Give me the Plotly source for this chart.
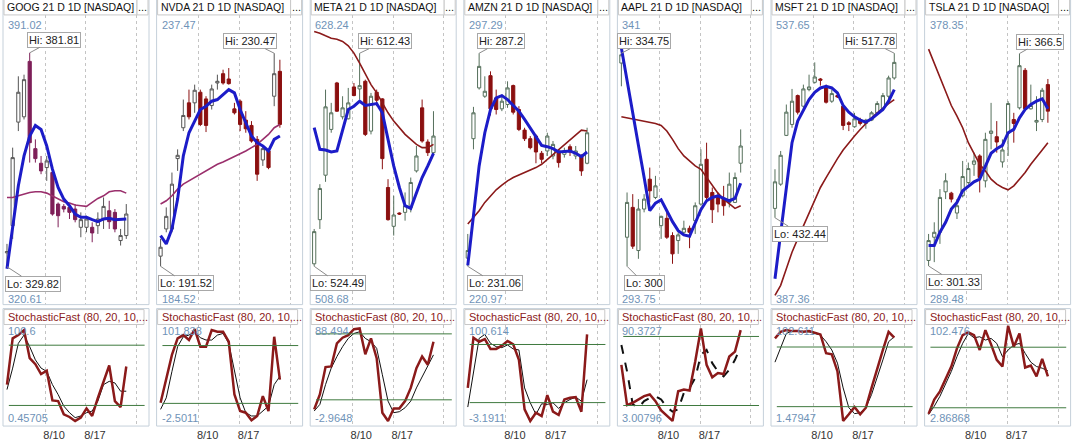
import plotly.graph_objects as go

# ---------------- data ----------------
tickers = ["GOOG", "NVDA", "META", "AMZN", "AAPL", "MSFT", "TSLA"]
price_top = [391.02, 237.47, 628.24, 297.29, 341, 537.65, 378.35]
price_bottom = [320.61, 184.52, 508.68, 220.97, 293.75, 387.36, 289.48]
stoch_top = [100.6, 101.838, 88.494, 100.614, 90.3727, 102.611, 102.476]
stoch_bottom = [0.45705, -2.5011, -2.9648, -3.1911, 3.00796, 1.47947, 2.86868]
stoch_levels = [80, 20]

date_ticks = [6.7, 13.9, 22.8]
date_labels = ["8/10", "8/17", ""]

goog_open = [333.19, 339.80, 364.97, 366.26, 379.73, 358.52, 354.97, 353.92, 352.71, 345.05, 344.48,
             344.24, 343.84, 339.40, 339.40, 339.40, 339.80, 341.42, 343.43, 343.03, 336.18, 337.39]
goog_high = [335.37, 358.76, 376.10, 376.50, 381.81, 360.77, 356.74, 356.74, 353.52, 345.45, 345.05,
             345.05, 345.05, 343.03, 342.22, 340.61, 343.03, 346.66, 345.85, 343.84, 339.00, 345.05]
goog_low = [329.82, 336.58, 362.79, 365.61, 355.13, 355.13, 352.31, 350.69, 342.22, 339.40, 343.03,
            341.42, 340.61, 336.98, 338.19, 335.77, 337.79, 339.00, 339.00, 338.19, 334.97, 336.58]
goog_close = [333.51, 356.34, 372.23, 375.29, 359.97, 356.10, 353.11, 355.53, 342.63, 342.22, 343.84,
              343.03, 341.26, 341.26, 341.42, 338.03, 341.42, 344.48, 340.77, 339.00, 337.39, 342.63]
goog_fast = [329.32, 339.80, 349.48, 356.74, 361.58, 364.16, 363.19, 359.16, 353.52, 349.08, 346.26,
             344.64, 342.63, 341.82, 341.82, 341.26, 340.77, 341.42, 341.58, 341.26, 341.26, 341.42]
goog_slow = [346.66, 346.66, 347.06, 347.47, 347.87, 348.03, 348.03, 347.71, 347.06, 346.26, 345.61,
             345.29, 344.81, 344.64, 344.48, 345.45, 346.42, 347.06, 348.03, 348.27, 348.27, 347.71]
goog_k = [40.74, 86.79, 90.08, 95.01, 67.05, 61.14, 51.27, 54.56, 24.96, 24.30, 11.15,
          8.52, 4.57, 7.86, 17.07, 9.50, 27.59, 44.03, 59.82, 24.30, 18.38, 58.83]
goog_d = [35.81, 57.19, 81.85, 90.08, 78.57, 65.41, 57.19, 53.90, 40.74, 30.88, 19.37,
          12.79, 7.86, 9.50, 12.79, 14.43, 24.30, 40.74, 44.03, 42.39, 34.17, 34.17]

nvda_open = [193.38, 198.35, 198.35, 211.21, 216.85, 221.40, 221.40, 223.34, 222.12, 220.91, 225.03,
             226.73, 225.76, 220.30, 221.70, 218.24, 217.27, 214.72, 210.96, 212.60, 222.61, 227.16]
nvda_high = [196.53, 202.29, 208.66, 212.90, 222.00, 223.82, 224.73, 223.82, 222.61, 224.73, 226.55,
             227.46, 227.76, 221.40, 222.00, 219.88, 218.06, 215.33, 213.51, 213.03, 230.47, 229.28]
nvda_low = [191.52, 197.74, 197.74, 208.96, 216.24, 218.36, 219.58, 217.15, 216.06, 220.18, 223.82,
            224.73, 224.73, 219.27, 216.24, 215.94, 214.12, 207.14, 209.87, 209.27, 220.79, 216.85]
nvda_close = [195.01, 200.65, 206.54, 211.81, 219.09, 218.85, 223.70, 217.45, 217.27, 223.94, 225.34,
              225.03, 224.91, 219.58, 217.45, 216.66, 214.42, 208.36, 213.03, 209.57, 226.73, 217.45]
nvda_fast = [197.14, 195.62, 198.35, 203.81, 211.69, 215.94, 218.06, 220.18, 220.79, 221.70, 222.00,
             222.91, 223.82, 223.22, 220.18, 217.76, 215.33, 214.12, 213.51, 212.60, 214.72, 215.33]
nvda_slow = [202.90, 203.50, 204.41, 205.63, 206.54, 207.14, 207.75, 208.36, 208.96, 209.57, 210.18,
             210.60, 211.08, 211.69, 212.18, 212.60, 213.21, 213.81, 214.72, 215.63, 216.85, 217.45]
nvda_k = [20.63, 46.33, 70.31, 87.45, 90.87, 85.73, 97.04, 78.88, 78.88, 96.01, 94.30,
          94.30, 84.02, 29.20, 12.06, 10.35, 2.47, 6.92, 27.48, 12.06, 89.16, 44.62]
nvda_d = [13.78, 25.77, 53.18, 78.88, 89.16, 90.87, 94.30, 88.13, 85.73, 85.73, 90.87,
          92.59, 82.31, 53.18, 25.77, 10.35, 6.92, 6.92, 12.06, 17.20, 39.48, 48.04]

meta_open = [525.52, 543.74, 562.09, 580.99, 600.16, 586.19, 585.37, 598.52, 597.70, 600.85, 580.30,
             596.33, 593.59, 557.02, 541.00, 546.48, 546.75, 548.81, 563.87, 589.89, 575.79, 571.40]
meta_high = [539.90, 558.39, 597.42, 591.95, 600.60, 594.68, 598.11, 600.16, 612.43, 601.53, 596.05,
             597.42, 593.90, 560.45, 553.60, 546.75, 554.97, 561.13, 574.14, 593.32, 576.88, 588.52]
meta_low = [524.49, 539.90, 559.35, 579.62, 588.20, 585.10, 585.10, 594.68, 593.32, 578.25, 578.94,
            590.58, 564.56, 543.33, 537.17, 545.66, 543.33, 546.75, 563.19, 575.51, 570.03, 570.72]
meta_close = [538.81, 556.61, 590.30, 587.84, 588.52, 589.89, 591.95, 594.96, 599.07, 578.94, 594.68,
              593.04, 568.94, 543.74, 545.66, 546.07, 549.49, 559.08, 570.03, 576.20, 571.40, 578.25]
meta_fast = [581.68, 572.77, 572.50, 571.68, 572.09, 580.99, 589.21, 590.58, 592.63, 590.85, 591.26,
             591.67, 587.84, 576.88, 565.93, 557.02, 549.49, 548.40, 554.97, 561.13, 565.93, 571.13]
meta_slow = [621.39, 620.70, 619.61, 618.65, 618.24, 617.28, 615.50, 612.49, 608.38, 603.59, 599.48,
             596.05, 591.95, 587.84, 584.41, 581.68, 578.94, 576.88, 574.83, 573.46, 573.46, 574.83]
meta_k = [11.30, 24.82, 49.75, 50.35, 71.37, 76.48, 78.88, 84.29, 84.89, 61.46, 75.88,
          57.86, 8.30, 0.78, 12.20, 12.20, 18.81, 30.82, 48.85, 59.36, 51.85, 72.87]
meta_d = [9.80, 15.81, 33.83, 48.85, 59.36, 68.37, 75.88, 80.38, 81.89, 75.88, 72.87,
          66.87, 42.84, 18.81, 8.30, 9.20, 12.80, 18.81, 30.82, 41.34, 50.35, 60.86]

amzn_open = [233.21, 264.68, 278.06, 275.87, 281.29, 275.43, 272.55, 273.68, 278.67, 272.37, 266.95,
             264.68, 265.38, 260.83, 261.45, 260.13, 261.45, 260.57, 262.58, 260.13, 259.96, 258.21]
amzn_high = [239.59, 273.07, 287.20, 281.12, 282.43, 277.62, 276.31, 279.80, 278.93, 273.25, 267.57,
             265.38, 265.82, 261.45, 266.25, 264.07, 261.88, 262.32, 263.19, 262.76, 260.57, 267.57]
amzn_low = [231.06, 261.88, 277.62, 275.43, 270.80, 271.06, 271.94, 272.81, 271.06, 266.69, 264.07,
            261.88, 258.21, 258.21, 260.13, 259.26, 257.07, 259.70, 260.13, 259.26, 254.89, 257.95]
amzn_close = [235.22, 271.50, 283.74, 277.18, 272.55, 272.37, 274.56, 278.06, 271.67, 267.13, 264.68,
              262.32, 261.18, 259.26, 265.38, 263.19, 258.39, 261.45, 261.18, 261.45, 256.20, 266.25]
amzn_fast = [231.29, 244.40, 257.51, 266.25, 272.37, 275.43, 276.04, 275.00, 273.42, 271.94, 269.75,
             267.57, 265.21, 262.93, 262.58, 262.06, 261.18, 261.36, 261.45, 260.83, 259.96, 261.18]
amzn_slow = [242.21, 243.96, 245.71, 247.90, 249.64, 251.22, 252.44, 253.58, 254.45, 255.06, 255.76,
             256.46, 257.07, 257.95, 259.26, 260.57, 261.88, 263.19, 264.51, 265.82, 266.95, 266.69]
amzn_k = [35.16, 86.98, 82.89, 85.61, 75.39, 75.39, 78.80, 83.57, 80.16, 64.14, 13.00,
          1.07, 9.59, 6.18, 27.66, 10.62, 7.21, 23.23, 24.93, 25.61, 10.62, 90.39]
amzn_d = [15.39, 52.21, 86.30, 90.39, 81.18, 77.77, 76.75, 79.48, 75.39, 74.36, 35.16,
          19.82, 7.89, 18.80, 18.12, 19.82, 14.02, 19.82, 23.23, 25.61, 21.53, 43.68]

aapl_open = [333.15, 304.74, 309.61, 302.57, 309.34, 314.21, 311.23, 306.63, 307.82, 305.01, 304.20,
             305.55, 306.20, 307.44, 310.15, 317.45, 312.04, 311.39, 310.96, 310.42, 310.42, 316.81]
aapl_high = [334.75, 312.04, 311.77, 310.96, 311.77, 316.10, 314.75, 308.25, 308.80, 305.55, 305.55,
             307.44, 306.63, 310.42, 319.08, 320.16, 312.85, 312.04, 313.12, 315.29, 315.29, 322.33]
aapl_low = [329.36, 300.00, 302.84, 301.22, 308.80, 310.42, 310.96, 304.47, 304.47, 300.41, 302.03,
            305.01, 302.95, 305.28, 309.88, 310.69, 307.06, 308.80, 308.25, 309.61, 310.31, 315.29]
aapl_close = [334.50, 310.42, 303.28, 309.34, 310.96, 312.31, 313.12, 308.15, 304.74, 302.03, 305.12,
              306.20, 305.55, 309.88, 316.64, 311.23, 309.23, 310.15, 309.88, 313.40, 314.48, 319.62]
aapl_fast = [335.59, 330.07, 325.25, 319.73, 314.53, 309.07, 310.31, 310.85, 309.07, 307.28, 305.82,
             305.12, 304.90, 307.17, 309.23, 310.69, 311.23, 311.50, 311.07, 310.69, 311.07, 313.56]
aapl_slow = [324.38, 324.22, 323.95, 323.84, 323.68, 323.52, 323.30, 322.97, 322.06, 320.70, 319.19,
             318.00, 317.18, 316.37, 315.83, 314.48, 313.13, 311.93, 310.96, 310.15, 309.44, 309.88]
aapl_k = [55.37, 20.36, 22.37, 25.24, 28.11, 29.55, 23.81, 15.77, 10.90, 6.59, 32.41,
          33.85, 32.99, 58.24, 86.93, 55.37, 44.46, 48.19, 47.34, 62.54, 66.84, 85.50]
aapl_d = [72.58, 49.63, 20.94, 18.07, 23.81, 26.68, 28.11, 25.24, 18.64, 14.63, 16.63,
          30.98, 35.28, 43.89, 63.97, 68.28, 56.80, 49.63, 45.33, 51.06, 59.67, 71.15]

msft_open = [437.28, 449.85, 475.16, 480.84, 495.81, 490.31, 498.91, 502.70, 504.42, 500.29, 492.89,
             495.81, 490.31, 481.70, 479.63, 483.42, 481.35, 483.08, 486.86, 488.93, 495.47, 504.94]
msft_high = [457.60, 467.07, 491.17, 499.26, 496.33, 501.50, 506.66, 513.03, 504.94, 501.50, 498.91,
             496.33, 490.65, 482.56, 486.86, 484.28, 483.76, 487.72, 492.89, 497.19, 506.14, 517.78]
msft_low = [432.44, 448.99, 474.81, 479.12, 486.00, 487.72, 498.05, 502.01, 500.98, 491.68, 492.03,
            494.61, 477.91, 477.39, 479.12, 480.32, 478.60, 482.56, 486.00, 487.72, 493.75, 504.08]
msft_close = [451.06, 464.83, 487.21, 492.89, 487.21, 499.26, 500.29, 505.45, 503.73, 492.37, 496.85,
              495.13, 480.32, 480.84, 483.76, 481.35, 483.08, 486.86, 491.68, 495.81, 504.94, 513.03]
msft_fast = [400.79, 424.89, 448.99, 471.37, 482.56, 488.58, 493.75, 497.54, 499.77, 500.63, 499.77,
             497.19, 490.65, 487.21, 484.80, 483.08, 482.04, 483.76, 486.00, 488.58, 492.89, 498.91]
msft_slow = [392.18, 397.34, 405.95, 414.56, 421.45, 428.33, 435.22, 442.10, 448.13, 453.29, 458.46,
             463.11, 467.58, 471.37, 474.81, 478.25, 481.35, 484.28, 486.86, 489.44, 491.68, 493.75]
msft_k = [88.66, 95.30, 96.96, 95.97, 95.97, 95.30, 95.97, 94.64, 92.65, 73.72, 72.72,
          55.45, 5.63, 12.27, 19.58, 12.27, 18.92, 38.84, 58.77, 77.04, 95.30, 89.33]
msft_d = [64.75, 78.70, 93.64, 95.97, 95.97, 95.97, 95.30, 93.64, 91.98, 85.34, 77.04,
          63.75, 38.84, 18.92, 12.94, 13.93, 18.92, 32.20, 48.81, 67.07, 85.34, 90.32]

tsla_open = [303.02, 310.15, 311.67, 324.09, 323.68, 317.58, 322.87, 326.94, 332.54, 335.09, 327.45,
             342.01, 340.99, 333.25, 342.01, 346.28, 349.85, 361.35, 349.54, 345.47, 346.28, 356.97]
tsla_high = [311.16, 314.73, 324.91, 329.79, 324.09, 321.85, 333.56, 333.05, 336.10, 335.60, 342.21,
             351.37, 345.78, 340.18, 351.88, 348.32, 366.50, 362.06, 356.97, 353.41, 355.96, 358.70]
tsla_low = [301.33, 302.51, 308.11, 321.85, 320.83, 315.74, 322.36, 326.43, 328.98, 323.89, 325.42,
            337.12, 336.10, 331.52, 335.09, 339.16, 349.34, 349.14, 349.34, 342.72, 345.47, 345.27]
tsla_close = [309.13, 311.67, 322.36, 327.45, 321.85, 319.82, 328.77, 331.22, 333.56, 328.47, 340.18,
              342.72, 339.36, 336.92, 351.17, 345.06, 362.78, 349.54, 350.56, 345.98, 355.24, 348.83]
tsla_fast = [307.60, 307.60, 311.67, 314.73, 318.80, 320.83, 324.40, 325.92, 327.15, 327.96, 332.03,
             335.90, 337.33, 338.34, 342.21, 343.23, 346.79, 349.34, 350.87, 351.88, 352.60, 349.54]
tsla_slow = [367.87, 363.59, 359.01, 354.94, 350.56, 347.30, 343.74, 339.16, 335.60, 332.54, 330.51,
             327.96, 326.43, 325.42, 324.70, 325.92, 327.96, 330.00, 332.54, 334.58, 336.92, 339.16]
tsla_k = [13.98, 28.07, 36.27, 49.38, 60.85, 78.88, 91.99, 94.61, 91.99, 77.24, 96.90,
          82.81, 67.41, 60.85, 101.17, 80.52, 93.63, 59.87, 61.84, 51.02, 68.39, 51.02]
tsla_d = [13.32, 21.52, 31.35, 42.82, 55.94, 70.68, 83.79, 93.63, 89.37, 90.35, 87.07,
          88.71, 83.79, 70.68, 77.24, 82.16, 83.79, 73.96, 65.11, 60.85, 59.21, 56.59]

ohlc = [
    (goog_open, goog_high, goog_low, goog_close),
    (nvda_open, nvda_high, nvda_low, nvda_close),
    (meta_open, meta_high, meta_low, meta_close),
    (amzn_open, amzn_high, amzn_low, amzn_close),
    (aapl_open, aapl_high, aapl_low, aapl_close),
    (msft_open, msft_high, msft_low, msft_close),
    (tsla_open, tsla_high, tsla_low, tsla_close),
]
fast_ma = [goog_fast, nvda_fast, meta_fast, amzn_fast, aapl_fast, msft_fast, tsla_fast]
slow_ma = [goog_slow, nvda_slow, meta_slow, amzn_slow, aapl_slow, msft_slow, tsla_slow]
stoch_k = [goog_k, nvda_k, meta_k, amzn_k, aapl_k, msft_k, tsla_k]
stoch_d = [goog_d, nvda_d, meta_d, amzn_d, aapl_d, msft_d, tsla_d]

# ---------------- layout helpers ----------------
W, H = 1077, 441
FONT = "Liberation Sans, Arial, sans-serif"
AXIS_BLUE = "#6f93b8"
BORDER = "#c5d0da"
down_colors = ["#7e1f58", "#8b1010", "#8b1010", "#8b1010", "#8b1010", "#8b1010", "#8b1010"]
up_lines = ["#555555", "#555555", "#56705c", "#56705c", "#56705c", "#56705c", "#56705c"]
slow_colors = ["#9a2f6c", "#9a2f6c", "#8b1a1a", "#8b1a1a", "#8b1a1a", "#8b1a1a", "#8b1a1a"]
hi_offset = [(24, -13), (-24, -12), (25, -12), (22, -12), (23, -12), (-24, -12), (21, -12)]
lo_offset = [(26, 17), (25, 17), (24, 17), (27, 17), (17, 17), (25, 16), (25, 16)]


def fx(p):
    return p / W


def fy(p):
    return 1 - p / H


fig = go.Figure()
shapes = []
annotations = []
layout = {}

for i, name in enumerate(tickers):
    left = 3 + 153.6 * i
    right = left + 146
    kp, ks = 2 * i + 1, 2 * i + 2
    xp = "x" if kp == 1 else f"x{kp}"
    yp = "y" if kp == 1 else f"y{kp}"
    xs, ys = f"x{ks}", f"y{ks}"
    o, h, l, c = ohlc[i]
    idx = list(range(len(o)))

    common_x = dict(domain=[fx(left), fx(right)], range=[-0.7, 25.0], tickvals=date_ticks,
                    ticktext=date_labels, showgrid=True, gridcolor="#c4c4c4", griddash="dot",
                    gridwidth=1, zeroline=False, showline=False, ticks="", fixedrange=True)
    layout["xaxis" if kp == 1 else f"xaxis{kp}"] = dict(common_x, anchor=yp, showticklabels=False,
                                                         rangeslider=dict(visible=False))
    # date labels sit just under the stochastic frame
    layout[f"xaxis{ks}"] = dict(common_x, anchor="free", position=fy(429), showticklabels=True,
                                ticklabelshift=9,
                                tickfont=dict(family=FONT, size=11, color="#333333"))
    layout["yaxis" if kp == 1 else f"yaxis{kp}"] = dict(
        domain=[fy(306), fy(15)], anchor=xp, range=[price_bottom[i], price_top[i]],
        visible=False, fixedrange=True)
    layout[f"yaxis{ks}"] = dict(
        domain=[fy(427), fy(326)], anchor=xs, range=[stoch_bottom[i], stoch_top[i]],
        visible=False, fixedrange=True)

    # price panel
    fig.add_trace(go.Candlestick(
        x=idx, open=o, high=h, low=l, close=c, xaxis=xp, yaxis=yp, whiskerwidth=0,
        increasing=dict(fillcolor="white", line=dict(color=up_lines[i], width=1)),
        decreasing=dict(fillcolor=down_colors[i], line=dict(color=down_colors[i], width=1)),
        showlegend=False, hoverinfo="skip"))
    fig.add_trace(go.Scatter(x=idx, y=slow_ma[i], mode="lines", xaxis=xp, yaxis=yp,
                             line=dict(color=slow_colors[i], width=1.6), showlegend=False,
                             hoverinfo="skip"))
    fig.add_trace(go.Scatter(x=idx, y=fast_ma[i], mode="lines", xaxis=xp, yaxis=yp,
                             line=dict(color="#1c1cc8", width=3), showlegend=False,
                             hoverinfo="skip"))

    # stochastic panel
    for lvl in stoch_levels:
        shapes.append(dict(type="line", xref=f"{xs} domain", yref=ys, x0=0.04, x1=0.97,
                           y0=lvl, y1=lvl, line=dict(color="#3f7a3f", width=1)))
    d_dash = "dash" if name == "AAPL" else "solid"
    d_width = 2 if name == "AAPL" else 1
    fig.add_trace(go.Scatter(x=idx, y=stoch_d[i], mode="lines", xaxis=xs, yaxis=ys,
                             line=dict(color="#111111", width=d_width, dash=d_dash),
                             showlegend=False, hoverinfo="skip"))
    fig.add_trace(go.Scatter(x=idx, y=stoch_k[i], mode="lines", xaxis=xs, yaxis=ys,
                             line=dict(color="#8b1a1a", width=2.5), showlegend=False,
                             hoverinfo="skip"))

    # frames and header boxes
    shapes.append(dict(type="rect", xref="paper", yref="paper", x0=fx(left), x1=fx(right),
                       y0=fy(306), y1=fy(-1), line=dict(color=BORDER, width=1)))
    shapes.append(dict(type="rect", xref="paper", yref="paper", x0=fx(left), x1=fx(right),
                       y0=fy(428), y1=fy(310), line=dict(color=BORDER, width=1)))
    shapes.append(dict(type="rect", xref="paper", yref="paper", x0=fx(left + 1), x1=fx(right - 12),
                       y0=fy(15), y1=fy(-1), line=dict(color="#c8c8c8", width=1),
                       fillcolor="white"))
    shapes.append(dict(type="rect", xref="paper", yref="paper", x0=fx(right - 12), x1=fx(right - 1),
                       y0=fy(15), y1=fy(-1), line=dict(color="#c8c8c8", width=1),
                       fillcolor="white"))
    shapes.append(dict(type="rect", xref="paper", yref="paper", x0=fx(left + 1), x1=fx(right - 5),
                       y0=fy(326), y1=fy(311), line=dict(color="#c8c8c8", width=1),
                       fillcolor="white"))

    annotations.append(dict(xref="paper", yref="paper", x=fx(left + 2), y=fy(7.5),
                            xanchor="left", yanchor="middle", showarrow=False,
                            text=f"{name} 21 D 1D [NASDAQ]",
                            font=dict(family=FONT, size=10.5, color="#111111")))
    annotations.append(dict(xref="paper", yref="paper", x=fx(right - 6.5), y=fy(7.5),
                            xanchor="center", yanchor="middle", showarrow=False, text="...",
                            font=dict(family=FONT, size=11, color="#111111")))
    annotations.append(dict(xref="paper", yref="paper", x=fx(left + 3), y=fy(318.5),
                            xanchor="left", yanchor="middle", showarrow=False,
                            text="StochasticFast (80, 20, 10,...",
                            font=dict(family=FONT, size=11, color="#8b2020")))

    # axis extreme labels
    for val, ypix in [(price_top[i], 25), (price_bottom[i], 300),
                      (stoch_top[i], 333), (stoch_bottom[i], 420)]:
        annotations.append(dict(xref="paper", yref="paper", x=fx(left + 3), y=fy(ypix),
                                xanchor="left", yanchor="middle", showarrow=False,
                                text=f"{val:g}",
                                font=dict(family=FONT, size=11, color=AXIS_BLUE)))

    # Hi / Lo callouts
    hi_i = max(idx, key=lambda k: h[k])
    lo_i = min(idx, key=lambda k: l[k])
    for label, xi, yv, (ax, ay) in [("Hi", hi_i, h[hi_i], hi_offset[i]),
                                    ("Lo", lo_i, l[lo_i], lo_offset[i])]:
        annotations.append(dict(xref=xp, yref=yp, x=xi, y=yv, text=f"{label}: {yv:g}",
                                showarrow=True, arrowhead=0, arrowwidth=1, arrowcolor="#8a8a8a",
                                ax=ax, ay=ay, bgcolor="white", bordercolor="#a8a8a8",
                                borderwidth=1, borderpad=1,
                                font=dict(family=FONT, size=11, color="#222222")))

fig.update_layout(
    width=W, height=H, margin=dict(l=0, r=0, t=0, b=0),
    paper_bgcolor="white", plot_bgcolor="white", hovermode=False, boxgap=0.2,
    shapes=shapes, annotations=annotations, **layout)

# the page's default body margin would push the 1077x441 figure off the window
fig.write_html("out.html", config={"displayModeBar": False},
               post_script="document.body.style.margin = '0';")
